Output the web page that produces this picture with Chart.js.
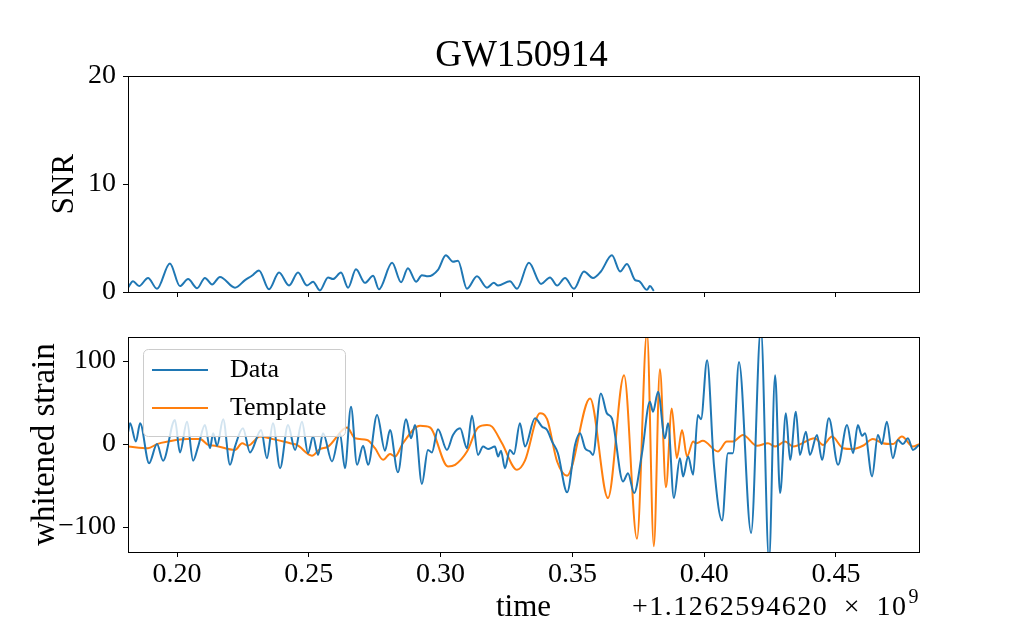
<!DOCTYPE html>
<html>
<head>
<meta charset="utf-8">
<script src="https://cdn.jsdelivr.net/npm/chart.js@4.4.1/dist/chart.umd.min.js"></script>
<style>
  body { margin: 0; background: #fff; }
  #wrap { position: relative; width: 1021px; height: 631px; }
  #wrap > div { position: absolute; left: 0; width: 1021px; }
</style>
</head>
<body>
<div id="wrap">
  <div style="top:0;height:320px"><canvas id="snr"></canvas></div>
  <div style="top:300px;height:331px"><canvas id="strain"></canvas></div>
</div>
<script>
// time is seconds after 1.1262594620e9 (GPS)
const chartTitle = 'GW150914';
const timeOffsetLabel = '+1.1262594620\u2002\u00d7\u200210';
const timeOffsetExp = '9';
const xTicks = [0.20, 0.25, 0.30, 0.35, 0.40, 0.45];
const snrTicks = [0, 10, 20];
const strainTicks = [-100, 0, 100];

const snrTime = [0.1814, 0.1833, 0.1856, 0.1890, 0.1924, 0.1973, 0.2011, 0.2042, 0.2076, 0.2106,
  0.2133, 0.2163, 0.2220, 0.2258, 0.2284, 0.2311, 0.2349, 0.2387, 0.2425, 0.2459,
  0.2493, 0.2516, 0.2542, 0.2573, 0.2592, 0.2622, 0.2649, 0.2679, 0.2713, 0.2744,
  0.2766, 0.2816, 0.2850, 0.2876, 0.2907, 0.2929, 0.2952, 0.2990, 0.3020, 0.3047,
  0.3066, 0.3100, 0.3138, 0.3176, 0.3202, 0.3218, 0.3263, 0.3290, 0.3335, 0.3381,
  0.3415, 0.3442, 0.3472, 0.3506, 0.3544, 0.3578, 0.3608, 0.3650, 0.3681, 0.3707,
  0.3738, 0.3753, 0.3783, 0.3794, 0.3809];
const snrValue = [0.4, 1.0, 0.55, 1.3, 0.3, 2.65, 0.55, 1.2, 0.35, 1.3,
  0.7, 1.4, 0.4, 1.1, 1.5, 2.0, 0.25, 1.8, 0.6, 1.8,
  0.6, 0.95, 0.15, 1.35, 1.2, 1.8, 0.4, 2.1, 0.85, 1.5,
  0.25, 2.7, 0.9, 2.2, 0.95, 1.55, 1.45, 2.05, 3.4, 2.8,
  2.9, 0.3, 1.45, 0.4, 0.85, 0.6, 1.0, 0.3, 2.7, 0.75,
  1.35, 0.6, 1.3, 0.3, 1.9, 1.3, 1.9, 3.4, 1.9, 2.6,
  1.1, 1.0, 0.2, 0.55, 0.1];

const dataTime = [0.1814, 0.1822, 0.1844, 0.1860, 0.1894, 0.1924, 0.1947, 0.1992, 0.2011, 0.2038,
  0.2061, 0.2080, 0.2106, 0.2125, 0.2137, 0.2152, 0.2175, 0.2201, 0.2220, 0.2250,
  0.2277, 0.2319, 0.2341, 0.2364, 0.2391, 0.2421, 0.2448, 0.2474, 0.2497, 0.2516,
  0.2535, 0.2554, 0.2588, 0.2618, 0.2637, 0.2660, 0.2683, 0.2706, 0.2725, 0.2759,
  0.2789, 0.2808, 0.2838, 0.2869, 0.2888, 0.2903, 0.2929, 0.2952, 0.2967, 0.2990,
  0.3024, 0.3047, 0.3074, 0.3100, 0.3119, 0.3142, 0.3161, 0.3180, 0.3206, 0.3218,
  0.3229, 0.3244, 0.3263, 0.3278, 0.3301, 0.3320, 0.3358, 0.3385, 0.3404, 0.3423,
  0.3445, 0.3480, 0.3510, 0.3529, 0.3548, 0.3567, 0.3578, 0.3608, 0.3631, 0.3650,
  0.3692, 0.3711, 0.3734, 0.3764, 0.3794, 0.3806, 0.3825, 0.3851, 0.3863, 0.3885,
  0.3908, 0.3920, 0.3939, 0.3958, 0.3976, 0.3988, 0.4011, 0.4037, 0.4068, 0.4090,
  0.4109, 0.4132, 0.4178, 0.4215, 0.4246, 0.4269, 0.4288, 0.4310, 0.4326, 0.4348,
  0.4363, 0.4386, 0.4401, 0.4428, 0.4447, 0.4473, 0.4508, 0.4542, 0.4565, 0.4583,
  0.4599, 0.4610, 0.4637, 0.4659, 0.4674, 0.4693, 0.4716, 0.4735, 0.4754, 0.4773,
  0.4792, 0.4815];
const dataStrain = [14, 25, 3, 25, -23, 0, -20, 29, -10, 27,
  -20, -3, 23, -5, 13, -2, 30, -25, -3, 19,
  -10, 17, -17, 25, -29, 23, -7, 27, -11, 9,
  -13, 13, -21, 13, -29, 45, -25, -2, -25, 35,
  -8, 17, -34, 30, 7, 23, -48, -7, -10, 18,
  -7, 11, 19, -5, 34, -13, -3, -6, -3, -15,
  -8, -29, -7, -12, 25, -3, 31, 21, 17, 3,
  -11, -58, -1, 13, -5, -9, -13, 61, 37, 31,
  -45, -35, -59, -11, 51, 39, 63, 7, 25, -65,
  -17, -39, -15, -37, 35, 30, 101, -25, -92, -11,
  -11, 99, -107, 140, -140, 83, -59, 37, -19, 39,
  -13, 15, -13, 11, -19, 31, -25, 23, -11, 23,
  10, 13, -39, 11, 0, 27, -17, 5, 0, 7,
  -7, -1];

const templateTime = [0.1814, 0.1890, 0.1924, 0.1966, 0.2038, 0.2087, 0.2118, 0.2144, 0.2220, 0.2247,
  0.2269, 0.2315, 0.2364, 0.2429, 0.2455, 0.2512, 0.2542, 0.2573, 0.2645, 0.2675,
  0.2721, 0.2751, 0.2782, 0.2808, 0.2827, 0.2857, 0.2922, 0.2960, 0.3028, 0.3055,
  0.3100, 0.3142, 0.3176, 0.3195, 0.3233, 0.3290, 0.3320, 0.3377, 0.3404, 0.3442,
  0.3480, 0.3567, 0.3635, 0.3696, 0.3745, 0.3783, 0.3809, 0.3832, 0.3855, 0.3877,
  0.3896, 0.3916, 0.3935, 0.3958, 0.3969, 0.3995, 0.4052, 0.4086, 0.4109, 0.4147,
  0.4200, 0.4242, 0.4269, 0.4307, 0.4337, 0.4420, 0.4451, 0.4485, 0.4527, 0.4561,
  0.4602, 0.4640, 0.4678, 0.4716, 0.4750, 0.4792, 0.4815];
const templateStrain = [-3, -5, 0, 3, 6, 6, -1, -2, -7, 1,
  -2, 9, 6, 1, -1, -14, -6, -3, 20, 7,
  5, -5, -19, -12, -15, 1, 22, 20, -27, -25,
  -9, 20, 23, 21, 1, -31, -20, 37, 30, -21,
  -38, 55, -65, 83, -114, 135, -123, 90, -52, 43,
  -17, 17, -15, 3, 1, 4, -9, 3, 3, 11,
  -2, 1, -3, 3, -3, 7, -1, 9, -5, -6,
  -2, 6, 1, 0, 9, -3, 0];

const blue = '#1f77b4';
const orange = '#ff7f0e';
const font = "'Liberation Serif', 'Times New Roman', serif";
Chart.defaults.font.family = font;
Chart.defaults.color = '#000';

const toPoints = (xs, ys) => xs.map((x, i) => ({ x: x, y: ys[i] }));

const frame = {
  id: 'frame',
  afterDraw(chart) {
    const a = chart.chartArea;
    const ctx = chart.ctx;
    ctx.save();
    ctx.strokeStyle = '#000';
    ctx.lineWidth = 1;
    ctx.strokeRect(Math.round(a.left) + 0.5, Math.round(a.top) + 0.5,
      Math.round(a.right - a.left), Math.round(a.bottom - a.top));
    ctx.restore();
  }
};

// title centred over the plot area, like matplotlib does
const centredTitle = {
  id: 'centredTitle',
  afterDraw(chart) {
    const a = chart.chartArea;
    const ctx = chart.ctx;
    ctx.save();
    ctx.fillStyle = '#000';
    ctx.font = '37px ' + font;
    ctx.textAlign = 'center';
    ctx.textBaseline = 'middle';
    ctx.fillText(chartTitle, (a.left + a.right) / 2 - 2, a.top - 20);
    ctx.restore();
  }
};

const legendBox = {
  id: 'legendBox',
  afterDatasetsDraw(chart) {
    const ctx = chart.ctx;
    const a = chart.chartArea;
    const x = a.left + 15, y = a.top + 12, w = 202, h = 87;
    ctx.save();
    ctx.beginPath();
    ctx.roundRect(x + 0.5, y + 0.5, w, h, 5);
    ctx.fillStyle = 'rgba(255,255,255,0.8)';
    ctx.fill();
    ctx.strokeStyle = '#cccccc';
    ctx.lineWidth = 1;
    ctx.stroke();
    chart.data.datasets.forEach((ds, i) => {
      const ly = y + 21 + i * 38;
      ctx.strokeStyle = ds.borderColor;
      ctx.lineWidth = 2;
      ctx.beginPath();
      ctx.moveTo(x + 9, ly);
      ctx.lineTo(x + 65, ly);
      ctx.stroke();
      ctx.fillStyle = '#000';
      ctx.font = '26px ' + font;
      ctx.textBaseline = 'middle';
      ctx.fillText(ds.label, x + 87, ly);
    });
    ctx.restore();
  }
};

const offsetText = {
  id: 'offsetText',
  afterDraw(chart) {
    const ctx = chart.ctx;
    const a = chart.chartArea;
    ctx.save();
    ctx.fillStyle = '#000';
    ctx.textBaseline = 'alphabetic';
    ctx.textAlign = 'left';
    ctx.letterSpacing = '1.5px';
    ctx.font = '20px ' + font;
    const supW = ctx.measureText(timeOffsetExp).width;
    ctx.font = '28px ' + font;
    const mainW = ctx.measureText(timeOffsetLabel).width;
    const x0 = a.right - supW - mainW;
    const base = 315;
    ctx.fillText(timeOffsetLabel, x0, base);
    ctx.font = '20px ' + font;
    ctx.fillText(timeOffsetExp, x0 + mainW + 1, base - 12);
    ctx.restore();
  }
};

function xScale(showLabels, height) {
  return {
    type: 'linear',
    min: 0.1814,
    max: 0.4815,
    afterBuildTicks: s => { s.ticks = xTicks.map(v => ({ value: v })); },
    afterFit: s => { s.height = height; },
    grid: { drawOnChartArea: false, color: '#000', tickLength: 5 },
    border: { color: '#000' },
    ticks: { display: showLabels, color: '#000', font: { size: 28 }, padding: 1,
      maxRotation: 0, autoSkip: false, callback: v => v.toFixed(2) },
    title: { display: showLabels, text: 'time', color: '#000',
      font: { size: 31, lineHeight: 1.2 }, padding: { top: 0, bottom: 5 } }
  };
}

function yScale(min, max, ticks, title, titleSize, titlePad, fmt) {
  return {
    min: min,
    max: max,
    afterBuildTicks: s => { s.ticks = ticks.map(v => ({ value: v })); },
    afterFit: s => { s.width = 128; },
    grid: { drawOnChartArea: false, color: '#000', tickLength: 5 },
    border: { color: '#000' },
    ticks: { color: '#000', font: { size: 28 }, padding: 7, callback: fmt },
    title: { display: true, text: title, color: '#000',
      font: { size: titleSize, lineHeight: 1.2 }, padding: { top: titlePad, bottom: 0 } }
  };
}

new Chart(document.getElementById('snr'), {
  type: 'line',
  data: {
    datasets: [{
      label: 'SNR',
      data: toPoints(snrTime, snrValue),
      borderColor: blue,
      borderWidth: 2,
      pointRadius: 0,
      cubicInterpolationMode: 'monotone',
      fill: false
    }]
  },
  options: {
    responsive: true,
    maintainAspectRatio: false,
    animation: false,
    layout: { padding: { top: 76, right: 102, bottom: 0, left: 0 } },
    plugins: {
      legend: { display: false },
      tooltip: { enabled: false },
      title: { display: false }
    },
    scales: {
      x: xScale(false, 28),
      y: yScale(0, 20, snrTicks, 'SNR', 31, 46, v => String(v))
    }
  },
  plugins: [frame, centredTitle]
});

new Chart(document.getElementById('strain'), {
  type: 'line',
  data: {
    datasets: [{
      label: 'Data',
      data: toPoints(dataTime, dataStrain),
      borderColor: blue,
      borderWidth: 2,
      pointRadius: 0,
      cubicInterpolationMode: 'monotone',
      fill: false
    }, {
      label: 'Template',
      data: toPoints(templateTime, templateStrain),
      borderColor: orange,
      borderWidth: 2,
      pointRadius: 0,
      cubicInterpolationMode: 'monotone',
      fill: false
    }]
  },
  options: {
    responsive: true,
    maintainAspectRatio: false,
    animation: false,
    layout: { padding: { top: 37, right: 102, bottom: 0, left: 0 } },
    plugins: {
      legend: { display: false },
      tooltip: { enabled: false }
    },
    scales: {
      x: xScale(true, 79),
      y: yScale(-130, 129, strainTicks, 'whitened strain', 33, 26,
        v => v < 0 ? '\u2212' + Math.abs(v) : String(v))
    }
  },
  plugins: [legendBox, frame, offsetText]
});
</script>
</body>
</html>
